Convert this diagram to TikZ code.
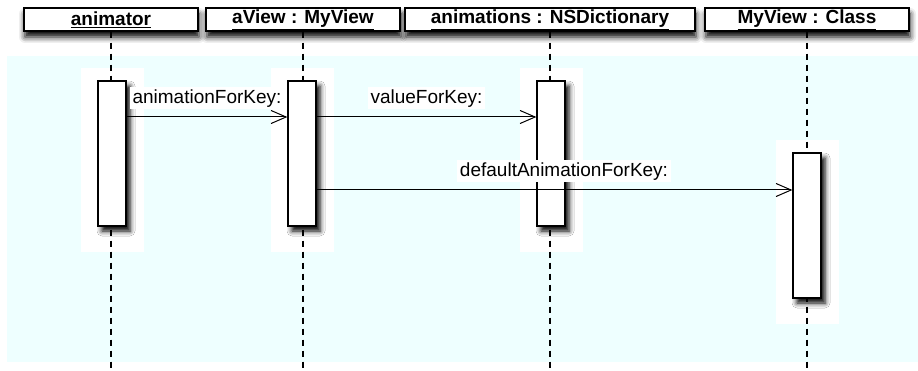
\documentclass[tikz,border=0pt]{standalone}
\usepackage{fontspec}
\setmainfont{Liberation Sans}
\usetikzlibrary{arrows.meta,shadows.blur,backgrounds}
\definecolor{bgcyan}{HTML}{EEFFFF}

\begin{document}
\begin{tikzpicture}[
    x=1pt, y=-1pt,
    every node/.style={font=\fontsize{19}{21}\selectfont},
    header/.style={draw, line width=1.3pt, fill=white, minimum height=23pt, inner sep=0pt,
        font=\fontsize{19}{21}\selectfont\bfseries,
        blur shadow={shadow xshift=1pt, shadow yshift=-6pt, shadow blur radius=6pt, shadow opacity=100}},
    activation/.style={draw, line width=1.3pt, fill=white, minimum width=28pt, inner sep=0pt,
        blur shadow={shadow xshift=4pt, shadow yshift=-5pt, shadow blur radius=5pt, shadow opacity=100}},
    lifeline/.style={line width=1.3pt, dash pattern=on 6pt off 5pt},
    msg/.style={-{Straight Barb[length=15pt, width=13pt]}, line width=1pt},
    msglabel/.style={fill=white, inner sep=2.5pt, above=7pt}
]
\useasboundingbox (0,0) rectangle (918,371);
\coordinate (bottom) at (0,371);

% Objects
\node[header, minimum width=174pt] (animator) at (111,19.5) {\underline{animator}};
\node[header, minimum width=194pt] (aview) at (303,19.5) {\underline{aView : MyView}};
\node[header, minimum width=290pt] (anims) at (550,19.5) {\underline{animations : NSDictionary}};
\node[header, minimum width=204pt] (myclass) at (807,19.5) {\underline{MyView : Class}};

% Activations
\node[activation, minimum height=145pt] (act1) at (112,153.5) {};
\node[activation, minimum height=145pt] (act2) at (302,153.5) {};
\node[activation, minimum height=145pt] (act3) at (551,153.5) {};
\node[activation, minimum height=145pt] (act4) at (807,225.5) {};

\begin{pgfonlayer}{background}
\fill[bgcyan] (7,56) rectangle (918,362);
\foreach \a in {act1,act2,act3,act4}
    \fill[white] ([xshift=-16pt, yshift=12pt]\a.north west) rectangle ([xshift=17pt, yshift=-25pt]\a.south east);
\draw[lifeline] (animator.south) -- (animator.south |- bottom);
\draw[lifeline] (aview.south) -- (aview.south |- bottom);
\draw[lifeline] (anims.south) -- (anims.south |- bottom);
\draw[lifeline] (myclass.south) -- (myclass.south |- bottom);
\end{pgfonlayer}

% Messages
\coordinate (m1) at (0,117);
\coordinate (m2) at (0,190);
\draw[msg] (act1.east |- m1) -- (act2.west |- m1) node[msglabel, midway] {animationForKey:};
\draw[msg] (act2.east |- m1) -- (act3.west |- m1) node[msglabel, midway] {valueForKey:};
\draw[msg] (act2.east |- m2) -- (act4.west |- m2) node[msglabel, pos=0.52] {defaultAnimationForKey:};
\end{tikzpicture}
\end{document}
